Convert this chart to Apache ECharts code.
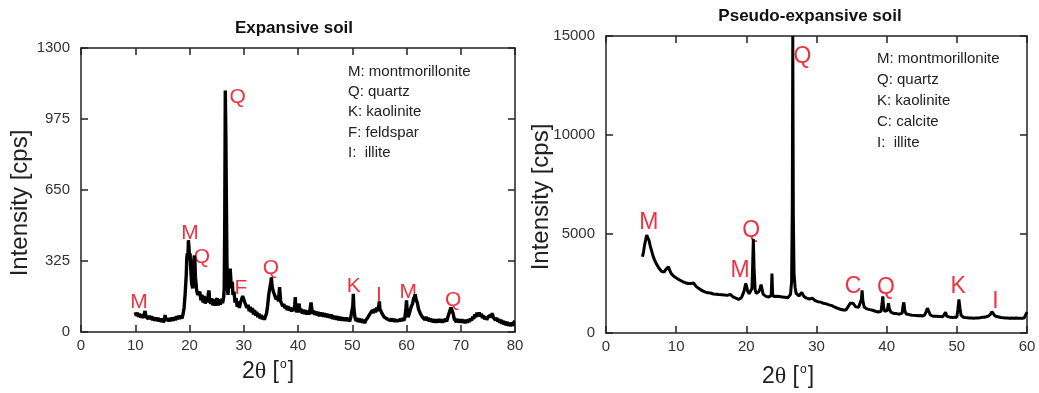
<!DOCTYPE html>
<html>
<head>
<meta charset="utf-8">
<script src="https://cdn.jsdelivr.net/npm/echarts@6/dist/echarts.min.js"></script>
<style>
html,body{margin:0;padding:0;background:#fff;}
#c{width:1039px;height:393px;}
</style>
</head>
<body>
<div id="c"></div>
<script>
// ---------- DATA ----------
const leftTitle = 'Expansive soil';
const rightTitle = 'Pseudo-expansive soil';

// Expansive soil XRD trace [2theta, cps]
const leftTrace = [
[10.0,90],[10.2,74],[10.4,88],[10.6,70],[10.8,84],[11.0,66],[11.2,80],[11.4,64],[11.6,78],[11.8,96],[12.0,70],[12.2,76],[12.4,60],[12.6,74],[12.8,58],[13.0,72],[13.2,54],[13.4,68],[13.6,52],[13.8,66],
[14.0,50],[14.2,66],[14.4,48],[14.6,62],[14.8,46],[15.0,62],[15.2,44],[15.4,58],[15.5,78],[15.6,54],[15.8,48],[16.0,62],[16.2,48],[16.4,64],[16.6,50],[16.8,66],[17.0,52],[17.2,68],[17.4,54],[17.6,72],
[17.8,58],[18.0,74],[18.2,60],[18.4,76],[18.6,62],[18.8,80],[19.0,110],[19.2,175],[19.4,260],[19.5,340],[19.6,360],[19.7,330],[19.8,420],[19.9,390],[20.0,340],[20.1,360],[20.2,300],[20.4,220],[20.6,200],[20.7,260],
[20.8,330],[20.9,350],[21.0,320],[21.1,250],[21.3,195],[21.5,170],[21.7,165],[21.9,185],[22.1,145],[22.3,170],[22.5,135],[22.7,165],[22.9,130],[23.1,160],[23.3,135],[23.5,180],[23.6,190],[23.7,145],[23.9,130],[24.1,155],
[24.3,122],[24.5,150],[24.7,120],[24.9,145],[25.1,155],[25.3,122],[25.5,150],[25.7,125],[25.9,152],[26.1,132],[26.3,160],[26.4,200],[26.5,520],[26.6,1105],[26.7,900],[26.8,600],[26.9,320],[27.0,200],[27.1,170],[27.3,240],
[27.5,290],[27.6,250],[27.7,200],[27.9,230],[28.0,170],[28.2,185],[28.4,135],[28.6,155],[28.8,115],[29.0,140],[29.2,110],[29.4,135],[29.6,140],[29.8,165],[30.0,170],[30.2,135],[30.4,130],[30.6,110],[30.8,125],[31.0,95],
[31.2,115],[31.4,90],[31.6,110],[31.8,80],[32.0,100],[32.2,75],[32.4,92],[32.6,68],[32.8,84],[33.0,62],[33.2,78],[33.4,58],[33.6,74],[33.8,56],[34.0,72],[34.2,85],[34.4,120],[34.6,170],[34.8,200],[35.0,230],
[35.1,250],[35.2,215],[35.4,190],[35.6,175],[35.8,160],[36.0,150],[36.2,165],[36.4,140],[36.6,205],[36.7,175],[36.8,140],[37.0,138],[37.2,118],[37.4,128],[37.6,108],[37.8,120],[38.0,100],[38.2,118],[38.4,98],[38.6,112],
[38.8,94],[39.0,108],[39.2,96],[39.4,125],[39.5,160],[39.6,105],[39.8,90],[40.0,110],[40.2,130],[40.4,90],[40.6,106],[40.8,84],[41.0,102],[41.2,82],[41.4,100],[41.6,80],[41.8,98],[42.0,80],[42.2,100],[42.4,135],
[42.5,115],[42.7,82],[42.9,98],[43.1,78],[43.3,94],[43.5,76],[43.7,92],[43.9,72],[44.1,90],[44.3,72],[44.5,88],[44.7,70],[44.9,86],[45.1,68],[45.3,84],[45.5,66],[45.7,82],[45.9,64],[46.1,80],[46.3,60],
[46.5,76],[46.7,58],[46.9,74],[47.1,56],[47.3,72],[47.5,54],[47.7,70],[47.9,52],[48.1,68],[48.3,52],[48.5,66],[48.7,50],[48.9,66],[49.1,50],[49.3,64],[49.5,48],[49.7,64],[49.9,56],[50.1,120],[50.2,175],
[50.3,110],[50.5,66],[50.7,50],[50.9,64],[51.1,46],[51.3,62],[51.5,44],[51.7,60],[51.9,42],[52.1,56],[52.3,40],[52.5,54],[52.7,52],[52.9,68],[53.1,68],[53.3,84],[53.5,84],[53.7,100],[53.9,86],[54.1,106],
[54.3,90],[54.5,112],[54.7,96],[54.9,125],[55.0,140],[55.1,106],[55.3,104],[55.5,84],[55.7,84],[55.9,68],[56.1,72],[56.3,62],[56.5,66],[56.7,56],[56.9,64],[57.1,52],[57.3,62],[57.5,48],[57.7,60],[57.9,46],
[58.1,58],[58.3,46],[58.5,58],[58.7,48],[58.9,62],[59.1,50],[59.3,64],[59.5,52],[59.7,66],[59.9,110],[60.0,145],[60.1,110],[60.3,68],[60.5,84],[60.7,92],[60.9,118],[61.1,128],[61.3,152],[61.5,162],[61.6,172],
[61.8,146],[62.0,134],[62.2,106],[62.4,104],[62.6,82],[62.8,86],[63.0,66],[63.2,74],[63.4,56],[63.6,70],[63.8,52],[64.0,66],[64.2,48],[64.4,62],[64.6,46],[64.8,60],[65.0,44],[65.2,58],[65.4,42],[65.6,58],
[65.8,44],[66.0,60],[66.2,44],[66.4,58],[66.6,42],[66.8,58],[67.0,46],[67.2,62],[67.4,48],[67.6,66],[67.8,72],[68.0,98],[68.2,112],[68.4,98],[68.6,84],[68.8,60],[69.0,60],[69.2,46],[69.4,60],[69.6,44],
[69.8,58],[70.0,42],[70.2,58],[70.4,42],[70.6,56],[70.8,40],[71.0,56],[71.2,42],[71.4,58],[71.6,46],[71.8,62],[72.0,52],[72.2,70],[72.4,60],[72.6,80],[72.8,68],[73.0,88],[73.2,72],[73.4,90],[73.6,70],
[73.8,84],[74.0,64],[74.2,76],[74.4,58],[74.6,70],[74.8,56],[75.0,68],[75.2,62],[75.4,76],[75.6,66],[75.8,86],[76.0,68],[76.2,70],[76.4,54],[76.6,66],[76.8,48],[77.0,60],[77.2,42],[77.4,56],[77.6,38],
[77.8,52],[78.0,34],[78.2,48],[78.4,30],[78.6,46],[78.8,28],[79.0,42],[79.2,26],[79.4,44],[79.6,28],[79.8,46],[80.0,48]
];

// Pseudo-expansive soil XRD trace [2theta, cps]
const rightTrace = [
[5.2,3850],[5.35,4100],[5.5,4450],[5.65,4700],[5.8,4950],[5.9,4980],[6.0,4850],[6.15,4650],[6.3,4400],[6.5,4150],[6.7,3900],[6.9,3700],[7.1,3550],[7.3,3450],[7.5,3300],[7.7,3250],[7.9,3120],[8.1,3150],[8.3,3080],[8.5,3200],
[8.7,3300],[8.9,3350],[9.1,3150],[9.3,3000],[9.5,2900],[9.7,2850],[9.9,2800],[10.1,2760],[10.3,2700],[10.5,2680],[10.7,2640],[10.9,2600],[11.1,2560],[11.3,2540],[11.5,2520],[11.7,2500],[11.9,2550],[12.1,2500],[12.3,2580],[12.5,2520],
[12.7,2420],[12.9,2330],[13.1,2280],[13.3,2230],[13.5,2180],[13.7,2140],[13.9,2110],[14.1,2080],[14.3,2050],[14.5,2030],[14.7,2000],[14.9,2020],[15.1,1980],[15.3,1970],[15.5,1940],[15.7,1960],[15.9,1920],[16.1,1940],[16.3,1910],[16.5,1930],
[16.7,1900],[16.9,1920],[17.1,1890],[17.3,1900],[17.5,1880],[17.7,1950],[17.9,1860],[18.1,1820],[18.3,1790],[18.5,1760],[18.7,1720],[18.9,1700],[19.1,1720],[19.3,1780],[19.5,1950],[19.7,2150],[19.9,2500],[20.05,2350],[20.2,2100],[20.4,1980],
[20.6,2050],[20.8,2250],[20.9,3400],[21.0,4750],[21.1,3300],[21.25,2200],[21.4,2000],[21.6,1980],[21.8,2100],[22.0,2300],[22.1,2450],[22.25,2200],[22.4,1950],[22.6,1880],[22.8,1850],[23.0,1870],[23.2,1820],[23.4,1860],[23.55,1900],[23.65,3000],
[23.75,1950],[23.9,1840],[24.1,1820],[24.3,1860],[24.5,1800],[24.7,1840],[24.9,1790],[25.1,1820],[25.3,1780],[25.5,1800],[25.7,1770],[25.9,1780],[26.1,1800],[26.3,1950],[26.45,2600],[26.55,6400],[26.62,15000],[26.7,6000],[26.8,3000],[26.95,2300],
[27.1,2000],[27.3,1900],[27.5,1870],[27.7,1900],[27.9,2050],[28.0,2000],[28.2,1850],[28.4,1800],[28.6,1760],[28.8,1740],[29.0,1720],[29.2,1700],[29.4,1760],[29.5,1850],[29.6,1680],[29.8,1640],[30.0,1620],[30.2,1580],[30.4,1600],[30.6,1560],
[30.8,1520],[31.0,1500],[31.2,1520],[31.4,1470],[31.6,1450],[31.8,1420],[32.0,1400],[32.2,1380],[32.4,1340],[32.6,1310],[32.8,1280],[33.0,1250],[33.2,1220],[33.4,1200],[33.6,1180],[33.8,1160],[34.0,1140],[34.2,1160],[34.4,1250],[34.6,1380],
[34.8,1500],[35.0,1550],[35.2,1500],[35.4,1400],[35.6,1320],[35.8,1280],[36.0,1300],[36.2,1400],[36.4,1700],[36.5,2150],[36.6,1650],[36.8,1300],[37.0,1250],[37.2,1220],[37.4,1200],[37.6,1180],[37.8,1170],[38.0,1150],[38.2,1120],[38.4,1100],
[38.6,1080],[38.8,1060],[39.0,1050],[39.2,1100],[39.35,1500],[39.45,1850],[39.55,1350],[39.7,1100],[39.9,1050],[40.1,1150],[40.25,1500],[40.4,1200],[40.6,1050],[40.8,1000],[41.0,990],[41.2,970],[41.4,980],[41.6,960],[41.8,950],[42.0,960],
[42.2,1000],[42.35,1400],[42.45,1550],[42.6,1100],[42.8,960],[43.0,930],[43.3,920],[43.6,900],[43.9,890],[44.2,880],[44.5,870],[44.8,880],[45.1,860],[45.4,900],[45.6,1050],[45.8,1250],[46.0,1100],[46.2,920],[46.5,860],[46.8,850],
[47.1,840],[47.4,830],[47.7,830],[48.0,820],[48.2,850],[48.4,1050],[48.55,850],[48.8,800],[49.1,790],[49.4,780],[49.7,790],[50.0,800],[50.15,1200],[50.3,1700],[50.45,1250],[50.6,900],[50.9,800],[51.2,780],[51.5,770],[51.8,760],
[52.1,760],[52.4,750],[52.7,760],[53.0,760],[53.3,770],[53.6,790],[53.9,800],[54.2,820],[54.5,850],[54.8,950],[55.0,1080],[55.2,980],[55.4,880],[55.7,830],[56.0,810],[56.3,780],[56.6,770],[56.9,760],[57.2,760],[57.5,750],
[57.8,760],[58.1,740],[58.4,760],[58.7,740],[59.0,750],[59.3,740],[59.6,760],[59.8,800],[60.0,1050]
];

// Peak annotations
const leftPeakLabels = ['M','M','Q','Q','F','Q','K','I','M','Q'];
const leftPeakX      = [10.7, 20.1, 22.3, 28.9, 29.5, 35.0, 50.3, 54.9, 60.3, 68.6];
const leftPeakY      = [137, 453, 343, 1075, 201, 293, 210, 169, 183, 146];

const rightPeakLabels = ['M','M','Q','Q','C','Q','K','I'];
const rightPeakX      = [6.1, 19.1, 20.7, 28.0, 35.2, 39.9, 50.2, 55.5];
const rightPeakY      = [5556, 3130, 5150, 13940, 2320, 2270, 2320, 1565];

// Key texts
const leftKey  = ['M: montmorillonite','Q: quartz','K: kaolinite','F: feldspar','I:  illite'];
const rightKey = ['M: montmorillonite','Q: quartz','K: kaolinite','C: calcite','I:  illite'];

// Axis ranges / ticks
const leftX = {min:0, max:80, interval:10};
const leftY = {min:0, max:1300, interval:325};
const rightX = {min:0, max:60, interval:10};
const rightY = {min:0, max:15000, interval:5000};

const yName = 'Intensity [cps]';

// ---------- CHART ----------
const FONT = 'Liberation Sans, Arial, sans-serif';
const AX = '#222';
const RED = '#e60012';

function axisSet(range, gridIndex, type, pos, showLabel) {
  return {
    type: 'value', gridIndex, position: pos,
    min: range.min, max: range.max, interval: range.interval,
    axisLine: {show: true, onZero: false, lineStyle: {color: AX, width: 1.5}},
    axisTick: {show: true, inside: true, length: 7, lineStyle: {color: AX, width: 1.5}},
    axisLabel: {show: showLabel, color: '#333', fontFamily: FONT, fontSize: 15,
      margin: type === 'x' ? 6 : 11, formatter: v => String(v)},
    splitLine: {show: false}
  };
}

const grids = [
  {left: 81, top: 48, width: 434, height: 284},
  {left: 606, top: 36, width: 421, height: 297}
];

function peakData(labels, xs, ys) {
  return labels.map((l, i) => ({value: [xs[i], ys[i]], name: l}));
}

function peakSeries(xi, yi, labels, xs, ys, fs) {
  return {
    type: 'scatter', xAxisIndex: xi, yAxisIndex: yi, symbolSize: 0, silent: true,
    data: peakData(labels, xs, ys),
    label: {show: true, position: 'inside', formatter: p => p.name,
      color: RED, fontFamily: FONT, fontSize: fs}
  };
}

function keyGraphics(lines, x, y0, dy) {
  return lines.map((t, i) => ({
    type: 'text', left: x, top: y0 + i * dy - 9,
    style: {text: t, fill: AX, font: '15px ' + FONT}
  }));
}

function xName(cx, cy) {
  return {
    type: 'text', x: cx, y: cy,
    style: {
      text: '{a|2}{t|θ}{a| [}{s|o}{a|]}',
      align: 'center', verticalAlign: 'middle',
      rich: {
        a: {fontFamily: FONT, fontSize: 23, fill: AX, lineHeight: 26},
        t: {fontFamily: 'Liberation Serif, serif', fontSize: 24, fill: AX, lineHeight: 26},
        s: {fontFamily: FONT, fontSize: 12, fill: AX, verticalAlign: 'top', lineHeight: 26, padding: [0,1,10,1]}
      }
    }
  };
}

function yNameG(cx, cy) {
  return {
    type: 'text', x: cx, y: cy, rotation: Math.PI / 2,
    style: {text: yName, fill: AX, font: '24px ' + FONT, align: 'center', verticalAlign: 'middle'}
  };
}

const option = {
  animation: false,
  backgroundColor: '#fff',
  title: [
    {text: leftTitle, left: 294, top: 20, textAlign: 'center', padding: 0,
      textStyle: {fontFamily: FONT, fontSize: 17, fontWeight: 'bold', color: '#111'}},
    {text: rightTitle, left: 810, top: 8, textAlign: 'center', padding: 0,
      textStyle: {fontFamily: FONT, fontSize: 17, fontWeight: 'bold', color: '#111'}}
  ],
  grid: grids,
  xAxis: [
    axisSet(leftX, 0, 'x', 'bottom', true),
    axisSet(leftX, 0, 'x', 'top', false),
    axisSet(rightX, 1, 'x', 'bottom', true),
    axisSet(rightX, 1, 'x', 'top', false)
  ],
  yAxis: [
    axisSet(leftY, 0, 'y', 'left', true),
    axisSet(leftY, 0, 'y', 'right', false),
    axisSet(rightY, 1, 'y', 'left', true),
    axisSet(rightY, 1, 'y', 'right', false)
  ],
  series: [
    {type: 'line', xAxisIndex: 0, yAxisIndex: 0, data: leftTrace, showSymbol: false,
      lineStyle: {color: '#000', width: 3.4}, silent: true},
    {type: 'line', xAxisIndex: 2, yAxisIndex: 2, data: rightTrace, showSymbol: false,
      lineStyle: {color: '#000', width: 3}, silent: true},
    peakSeries(0, 0, leftPeakLabels, leftPeakX, leftPeakY, 21),
    peakSeries(2, 2, rightPeakLabels, rightPeakX, rightPeakY, 23)
  ],
  graphic: [
    ...keyGraphics(leftKey, 348, 73, 20.3),
    ...keyGraphics(rightKey, 877, 60, 21),
    yNameG(20, 203),
    yNameG(541, 197),
    xName(268, 372),
    xName(788, 377)
  ]
};

const chart = echarts.init(document.getElementById('c'), null, {renderer: 'canvas'});
chart.setOption(option);
</script>
</body>
</html>
